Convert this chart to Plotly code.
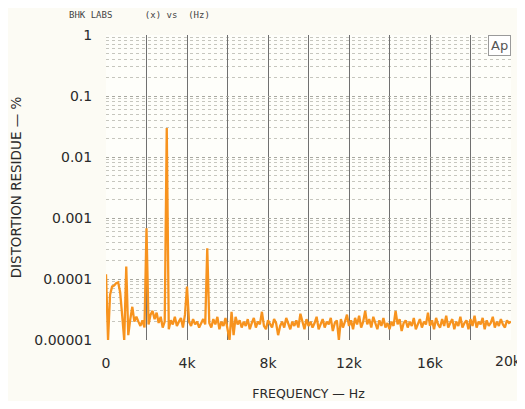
import plotly.graph_objects as go

# Frequency in Hz (100 Hz steps, 0 .. 20 kHz)
freq_hz = list(range(0, 20001, 100))

# Distortion residue in percent (one value per 100 Hz)
residue_pct = [
    # 0 - 0.9k
    1.2e-4, 1.0e-5, 5.5e-5, 7.5e-5, 7.8e-5, 8.5e-5, 8.8e-5, 6.0e-5, 2.5e-5, 1.0e-5,
    # 1k - 1.9k
    1.6e-4, 1.2e-5, 2.2e-5, 3.5e-5, 2.0e-5, 2.4e-5, 2.0e-5, 1.7e-5, 2.1e-5, 1.6e-5,
    # 2k - 2.9k
    6.8e-4, 1.8e-5, 2.6e-5, 3.0e-5, 2.2e-5, 2.8e-5, 1.9e-5, 2.4e-5, 1.6e-5, 2.0e-5,
    # 3k - 3.9k
    3.0e-2, 1.5e-5, 2.1e-5, 1.8e-5, 2.4e-5, 1.7e-5, 2.0e-5, 2.3e-5, 1.6e-5, 2.6e-5,
    # 4k - 4.9k
    7.5e-5, 2.0e-5, 1.7e-5, 2.2e-5, 1.8e-5, 2.0e-5, 1.6e-5, 1.9e-5, 2.2e-5, 1.8e-5,
    # 5k - 5.9k
    3.2e-4, 1.9e-5, 1.6e-5, 2.2e-5, 1.8e-5, 2.4e-5, 1.5e-5, 2.0e-5, 1.7e-5, 2.3e-5,
    # 6k - 6.9k
    1.4e-5, 1.0e-5, 2.9e-5, 1.2e-5, 2.4e-5, 1.8e-5, 2.1e-5, 1.6e-5, 2.0e-5, 1.7e-5,
    # 7k - 7.9k
    2.2e-5, 1.5e-5, 1.9e-5, 2.3e-5, 1.6e-5, 2.0e-5, 1.8e-5, 2.9e-5, 1.7e-5, 1.5e-5,
    # 8k - 8.9k
    2.1e-5, 1.8e-5, 1.6e-5, 2.2e-5, 1.9e-5, 1.2e-5, 1.7e-5, 2.0e-5, 1.6e-5, 2.3e-5,
    # 9k - 9.9k
    1.8e-5, 1.5e-5, 2.0e-5, 1.7e-5, 2.1e-5, 1.6e-5, 2.7e-5, 1.9e-5, 1.5e-5, 2.2e-5,
    # 10k - 10.9k
    1.7e-5, 2.0e-5, 1.6e-5, 1.9e-5, 2.4e-5, 1.5e-5, 1.8e-5, 2.2e-5, 1.6e-5, 2.0e-5,
    # 11k - 11.9k
    1.8e-5, 2.3e-5, 1.4e-5, 1.9e-5, 2.1e-5, 1.0e-5, 2.2e-5, 1.6e-5, 2.0e-5, 2.6e-5,
    # 12k - 12.9k
    1.7e-5, 2.1e-5, 1.5e-5, 2.3e-5, 1.8e-5, 2.5e-5, 1.6e-5, 2.0e-5, 3.0e-5, 1.8e-5,
    # 13k - 13.9k
    2.2e-5, 1.6e-5, 2.4e-5, 1.9e-5, 1.5e-5, 2.1e-5, 1.7e-5, 2.3e-5, 1.6e-5, 1.9e-5,
    # 14k - 14.9k
    1.5e-5, 2.0e-5, 1.7e-5, 3.0e-5, 1.8e-5, 2.2e-5, 1.4e-5, 1.9e-5, 2.1e-5, 1.6e-5,
    # 15k - 15.9k
    2.0e-5, 1.7e-5, 2.3e-5, 1.5e-5, 1.9e-5, 2.2e-5, 1.6e-5, 2.0e-5, 1.8e-5, 2.8e-5,
    # 16k - 16.9k
    1.7e-5, 2.1e-5, 1.5e-5, 2.3e-5, 1.8e-5, 1.6e-5, 2.2e-5, 1.7e-5, 2.5e-5, 1.6e-5,
    # 17k - 17.9k
    1.9e-5, 2.2e-5, 1.5e-5, 2.0e-5, 1.7e-5, 2.4e-5, 1.6e-5, 1.9e-5, 2.1e-5, 1.5e-5,
    # 18k - 18.9k
    2.2e-5, 1.7e-5, 2.5e-5, 1.6e-5, 2.0e-5, 1.8e-5, 2.3e-5, 1.5e-5, 2.1e-5, 1.7e-5,
    # 19k - 19.9k
    1.9e-5, 2.4e-5, 1.6e-5, 2.0e-5, 1.7e-5, 2.2e-5, 1.8e-5, 1.6e-5, 2.1e-5, 1.9e-5,
    # 20k
    2.0e-5,
]

x_tickvals = [0, 2000, 4000, 6000, 8000, 10000, 12000, 14000, 16000, 18000, 20000]
x_ticktext = ["0", "", "4k", "", "8k", "", "12k", "", "16k", "", ""]
last_x_tick = 20000
last_x_label = "20k"
y_tickvals = [1, 0.1, 0.01, 0.001, 0.0001, 0.00001]
y_ticktext = ["1", "0.1", "0.01", "0.001", "0.0001", "0.00001"]

fig = go.Figure()
fig.add_trace(go.Scatter(
    x=freq_hz, y=residue_pct, mode="lines",
    line=dict(color="#f7931e", width=2.3),
    hoverinfo="skip", showlegend=False,
))

font_main = "DejaVu Sans, sans-serif"
clear = "rgba(0,0,0,0)"

# the page body adds an 8px margin on every side; keep the figure inside the window
fig.update_layout(
    width=517, height=393,
    margin=dict(l=98, r=14, t=27, b=61, autoexpand=False),
    paper_bgcolor="#fcfbf4",
    plot_bgcolor="#fefefa",
    font=dict(family=font_main, color="#2a2a2a", size=14),
    xaxis=dict(
        range=[0, 20000], automargin=False,
        tickvals=x_tickvals, ticktext=x_ticktext,
        showgrid=True, gridcolor="#707070", gridwidth=1,
        zeroline=False, ticks="outside", ticklen=10, tickcolor=clear,
        ticklabeloverflow="allow",
        showline=False,
        title=dict(text="FREQUENCY — Hz", font=dict(size=12.5, color="#2a2a2a"), standoff=20),
        tickfont=dict(size=14),
    ),
    yaxis=dict(
        type="log", range=[-5, 0], automargin=False,
        tickvals=y_tickvals, ticktext=y_ticktext,
        showgrid=True, gridcolor="#a8a8a0", gridwidth=1, griddash="dot",
        minor=dict(showgrid=True, gridcolor="#c6c6be", griddash="dot", gridwidth=1, dtick="D1"),
        zeroline=False, ticks="outside", ticklen=10, tickcolor=clear,
        ticklabeloverflow="allow",
        title=dict(text="DISTORTION RESIDUE — %", font=dict(size=13.5, color="#2a2a2a"), standoff=11),
        tickfont=dict(size=14),
    ),
    annotations=[
        dict(text=last_x_label, xref="x", yref="paper", x=last_x_tick, y=0,
             xanchor="center", yanchor="top", xshift=-3, yshift=-11, showarrow=False,
             font=dict(size=14, color="#2a2a2a")),
        dict(text="BHK LABS" + "&nbsp;" * 6 + "(x) vs" + "&nbsp;" * 2 + "(Hz)",
             xref="paper", yref="paper",
             x=-0.096, y=1.066, xanchor="left", yanchor="middle", showarrow=False,
             font=dict(family="DejaVu Sans Mono, monospace", size=9, color="#444")),
        dict(text="Ap", xref="paper", yref="paper", x=1.0, y=1.0,
             xanchor="right", yanchor="top", showarrow=False,
             bgcolor="#ffffff", bordercolor="#9a9a9a", borderwidth=1, borderpad=2,
             font=dict(size=13, color="#555")),
    ],
)

fig.write_html("out.html")
